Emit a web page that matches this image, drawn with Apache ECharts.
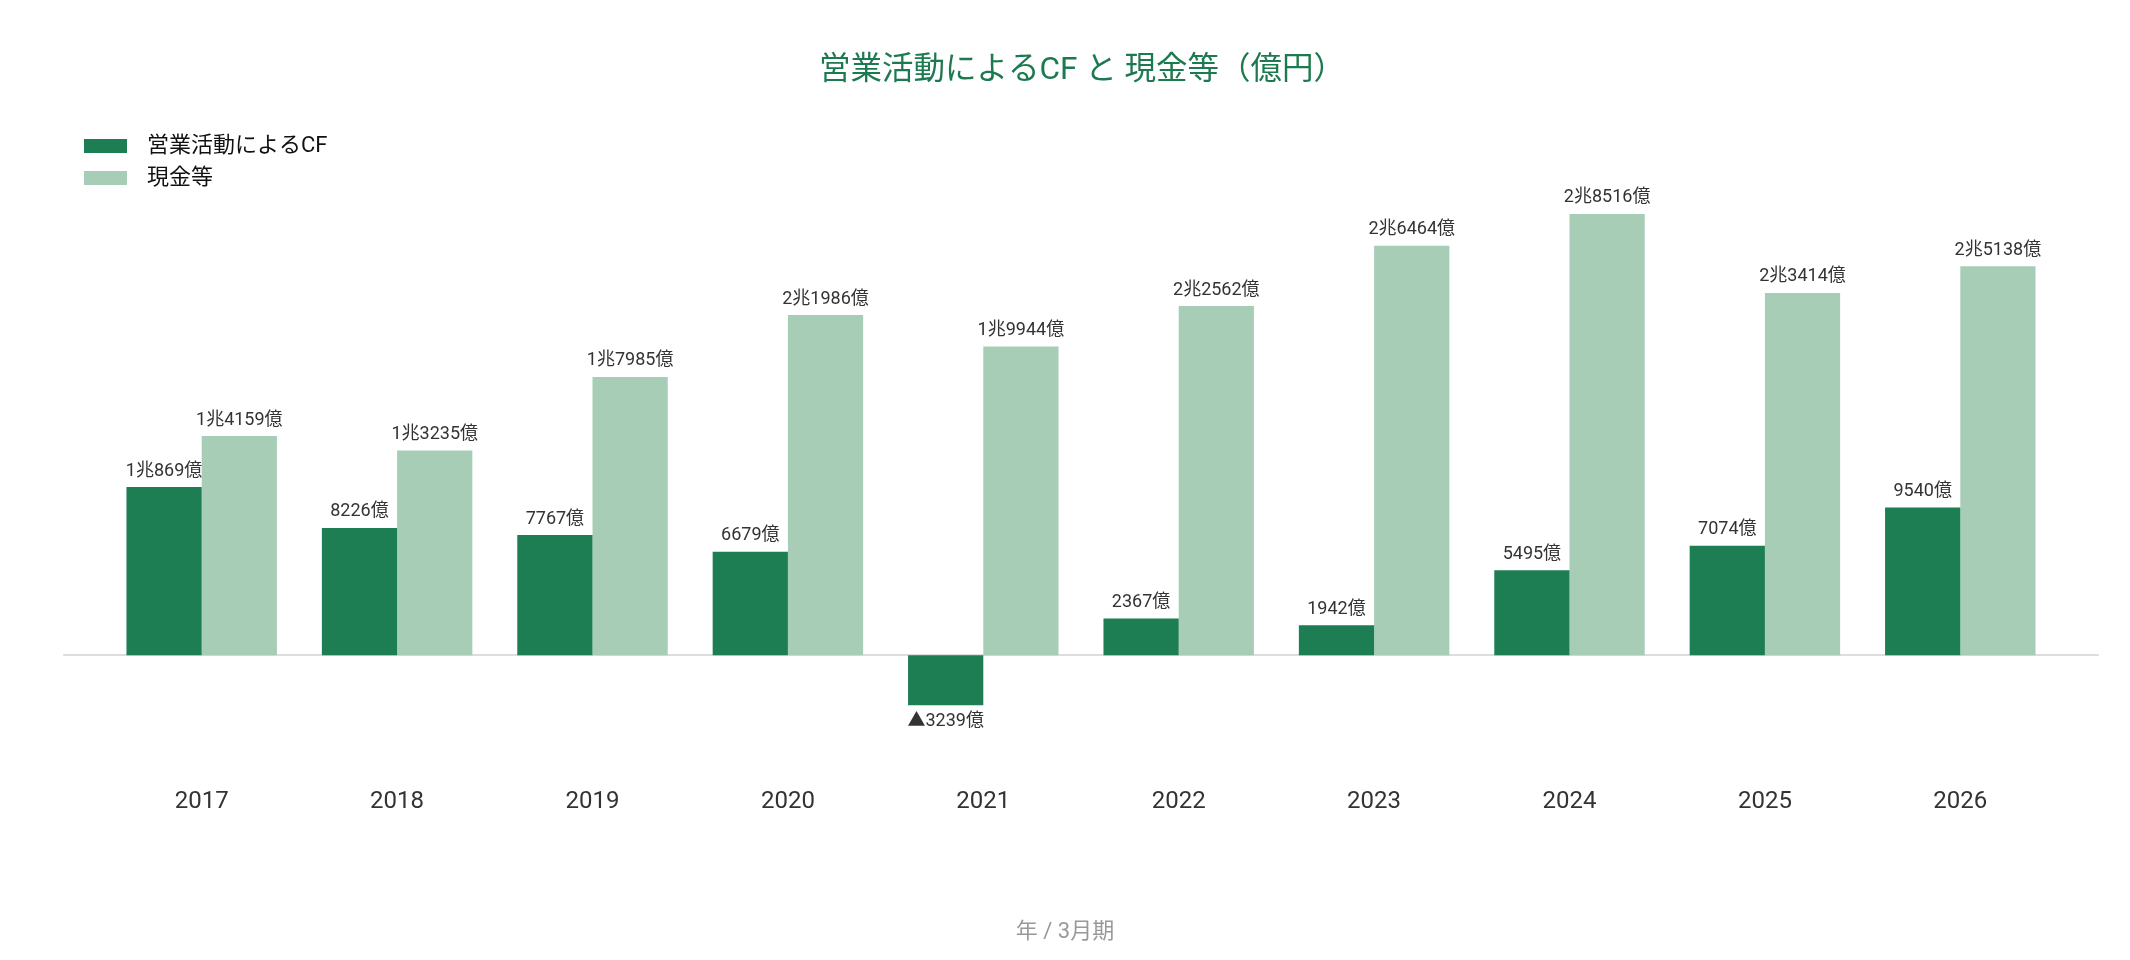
<!DOCTYPE html>
<html>
<head>
<meta charset="utf-8">
<script src="https://cdn.jsdelivr.net/npm/echarts@6/dist/echarts.min.js"></script>
<style>html,body{margin:0;padding:0;background:#fff}#c{width:2130px;height:960px}</style>
</head>
<body>
<div id="c"></div>
<script>
const categories = ['2017','2018','2019','2020','2021','2022','2023','2024','2025','2026'];
const cfValues = [10869, 8226, 7767, 6679, -3239, 2367, 1942, 5495, 7074, 9540];
const cashValues = [14159, 13235, 17985, 21986, 19944, 22562, 26464, 28516, 23414, 25138];
const seriesNames = ['営業活動によるCF', '現金等'];
const titleText = '営業活動によるCF と 現金等（億円）';
const axisNameText = '年 / 3月期';

const FONT = 'Roboto, "Noto Sans CJK JP", "Noto Sans", sans-serif';
function fmt(v) {
  const neg = v < 0;
  const a = Math.abs(v);
  let s;
  if (a >= 10000) s = Math.floor(a / 10000) + '兆' + (a % 10000) + '億';
  else s = a + '億';
  return (neg ? '▲' : '') + s;
}
const labelStyle = {
  show: true,
  fontFamily: FONT,
  fontSize: 18,
  color: '#333',
  distance: 7,
  formatter: p => fmt(p.value)
};
const chart = echarts.init(document.getElementById('c'));
chart.setOption({
  backgroundColor: '#fff',
  animation: false,
  textStyle: { fontFamily: FONT },
  title: [
    { text: titleText, left: 814, top: 50, padding: 5,
      textStyle: { fontFamily: FONT, fontSize: 31.5, fontWeight: 'normal', color: '#1d7a50' } },
    { text: axisNameText, left: 'center', top: 916, padding: 5,
      textStyle: { fontFamily: FONT, fontSize: 22, fontWeight: 'normal', color: '#999' } }
  ],
  legend: {
    orient: 'vertical', left: 79, top: 130, itemWidth: 43, itemHeight: 14, itemGap: 10,
    icon: 'rect',
    textStyle: { fontFamily: FONT, fontSize: 22, color: '#111', padding: [0, 0, 0, 15] },
    data: seriesNames
  },
  grid: [
    { left: 104, right: 72, top: 191, bottom: 181, containLabel: false },
    { left: 64, right: 32, top: 191, bottom: 181, containLabel: false }
  ],
  xAxis: [
    { type: 'category', gridIndex: 0, data: categories,
      axisLine: { show: false, onZero: false }, axisTick: { show: false },
      axisLabel: { fontFamily: FONT, fontSize: 24, color: '#333', margin: 11 } },
    { type: 'category', gridIndex: 1, data: categories,
      axisLine: { show: true, onZero: true, lineStyle: { color: '#dddddd', width: 2 } },
      axisTick: { show: false }, axisLabel: { show: false } }
  ],
  yAxis: [
    { type: 'value', gridIndex: 0, min: -8000, max: 30000,
      show: false, splitLine: { show: false } },
    { type: 'value', gridIndex: 1, min: -8000, max: 30000,
      show: false, splitLine: { show: false } }
  ],
  series: [
    { name: seriesNames[0], type: 'bar',
      data: cfValues.map(v => v < 0 ? { value: v, label: { position: 'bottom' } } : v),
      barGap: '0%', barCategoryGap: '23%',
      itemStyle: { color: '#1d7d53' },
      label: Object.assign({}, labelStyle, { position: 'top' }),
      z: 3 },
    { name: seriesNames[1], type: 'bar', data: cashValues, barGap: '0%', barCategoryGap: '23%',
      itemStyle: { color: '#a8cdb7' },
      label: Object.assign({}, labelStyle, { position: 'top' }),
      z: 2 }
  ]
});
</script>
</body>
</html>
